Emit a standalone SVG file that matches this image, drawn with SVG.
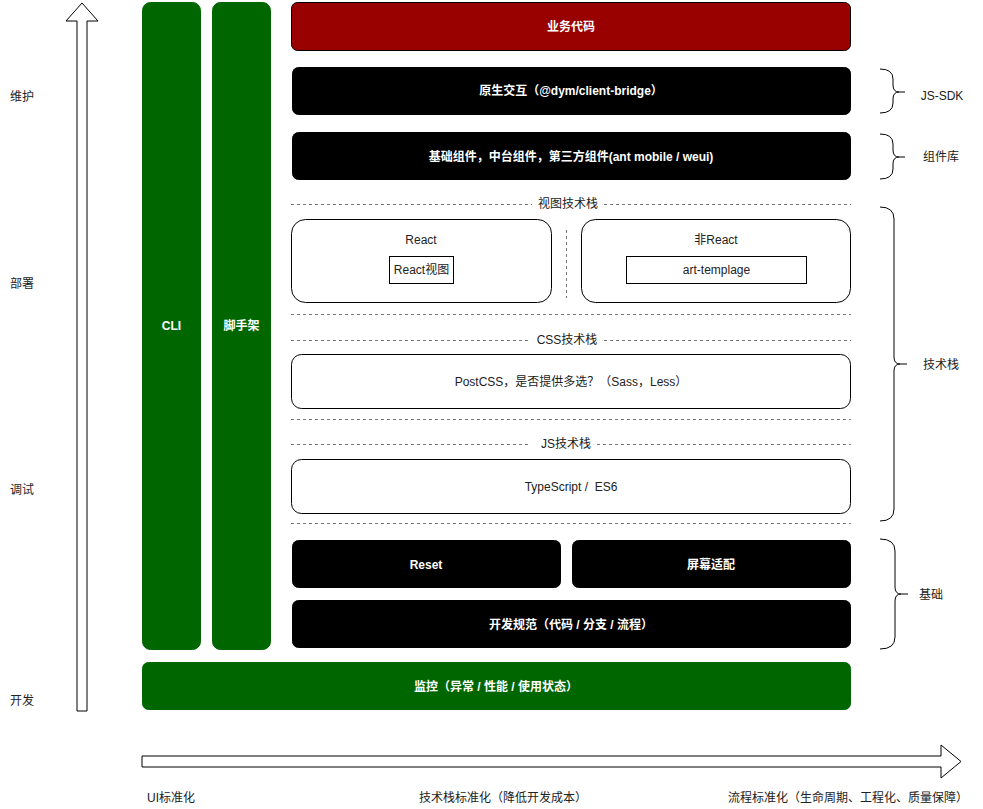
<svg xmlns="http://www.w3.org/2000/svg" width="983" height="809" viewBox="0 0 983 809">
  <style>
    text { font-family: "Liberation Sans", "Noto Sans CJK SC", sans-serif; font-size: 12px; fill: #222; }
    .w { fill: #fff; font-weight: bold; }
    .mid { text-anchor: middle; dominant-baseline: central; }
    .dark { fill: #000; stroke: #000; }
    .green { fill: #006600; stroke: #006600; }
    .red { fill: #990000; stroke: #000; }
    .box { fill: #fff; stroke: #000; }
    .dash { stroke: #777; stroke-dasharray: 3 3; fill: none; }
    .brace { fill: none; stroke: #000; }
    .arrow { fill: #fff; stroke: #000; }
  </style>

  <!-- axis arrows -->
  <g id="axes">
    <path class="arrow" d="M77,711 L77,21 L66,21 L82,3 L98,21 L87,21 L87,711 Z"/>
    <path class="arrow" d="M142,756 L941,756 L941,745 L961,761.5 L941,778 L941,767 L142,767 Z"/>
  </g>

  <!-- axis labels -->
  <g id="axis-labels">
    <text x="10" y="97" dominant-baseline="central">维护</text>
    <text x="10" y="284" dominant-baseline="central">部署</text>
    <text x="10" y="490" dominant-baseline="central">调试</text>
    <text x="10" y="701" dominant-baseline="central">开发</text>
    <text x="147" y="798" dominant-baseline="central">UI标准化</text>
    <text x="503" y="798" class="mid">技术栈标准化（降低开发成本）</text>
    <text x="848" y="798" class="mid">流程标准化（生命周期、工程化、质量保障）</text>
  </g>

  <!-- tool columns -->
  <g id="cli">
    <rect class="green" x="142.5" y="2.5" width="58" height="647" rx="8"/>
    <text class="w mid" x="171.5" y="326">CLI</text>
  </g>
  <g id="scaffold">
    <rect class="green" x="212.5" y="2.5" width="58" height="647" rx="8"/>
    <text class="w mid" x="241.5" y="326">脚手架</text>
  </g>

  <!-- layers -->
  <g id="business">
    <rect class="red" x="291.5" y="2.5" width="559" height="48" rx="6"/>
    <text class="w mid" x="571" y="27">业务代码</text>
  </g>
  <g id="bridge">
    <rect class="dark" x="292.5" y="67.5" width="558" height="47" rx="6"/>
    <text class="w mid" x="571" y="91">原生交互（@dym/client-bridge）</text>
  </g>
  <g id="components">
    <rect class="dark" x="292.5" y="132.5" width="558" height="47" rx="6"/>
    <text class="w mid" x="571" y="157">基础组件，中台组件，第三方组件(ant mobile / weui)</text>
  </g>

  <!-- view stack -->
  <g id="view-stack">
    <line class="dash" x1="291" y1="204.5" x2="532" y2="204.5"/>
    <line class="dash" x1="604" y1="204.5" x2="851" y2="204.5"/>
    <text class="mid" x="568" y="204">视图技术栈</text>
    <line class="dash" x1="566.5" y1="230" x2="566.5" y2="298"/>
    <line class="dash" x1="291" y1="314.5" x2="851" y2="314.5"/>
  </g>
  <g id="react">
    <rect class="box" x="291.5" y="219.5" width="260" height="83" rx="14"/>
    <text class="mid" x="421" y="240">React</text>
  </g>
  <g id="react-view">
    <rect class="box" x="389.5" y="256.5" width="64" height="27"/>
    <text class="mid" x="421.5" y="270">React视图</text>
  </g>
  <g id="non-react">
    <rect class="box" x="581.5" y="219.5" width="269" height="83" rx="14"/>
    <text class="mid" x="716" y="240">非React</text>
  </g>
  <g id="art-template">
    <rect class="box" x="626.5" y="256.5" width="180" height="27"/>
    <text class="mid" x="716.5" y="270">art-templage</text>
  </g>

  <!-- css stack -->
  <g id="css-stack">
    <line class="dash" x1="291" y1="340.5" x2="528" y2="340.5"/>
    <line class="dash" x1="604" y1="340.5" x2="851" y2="340.5"/>
    <text class="mid" x="567" y="340">CSS技术栈</text>
    <line class="dash" x1="291" y1="419.5" x2="851" y2="419.5"/>
  </g>
  <g id="postcss">
    <rect class="box" x="291.5" y="354.5" width="559" height="54" rx="10"/>
    <text class="mid" x="571" y="382">PostCSS，是否提供多选？（Sass，Less）</text>
  </g>

  <!-- js stack -->
  <g id="js-stack">
    <line class="dash" x1="291" y1="444.5" x2="528" y2="444.5"/>
    <line class="dash" x1="597" y1="444.5" x2="851" y2="444.5"/>
    <text class="mid" x="566" y="444">JS技术栈</text>
    <line class="dash" x1="291" y1="523.5" x2="851" y2="523.5"/>
  </g>
  <g id="typescript">
    <rect class="box" x="291.5" y="459.5" width="559" height="54" rx="10"/>
    <text class="mid" x="571" y="487">TypeScript /&#160; ES6</text>
  </g>

  <!-- foundation -->
  <g id="reset">
    <rect class="dark" x="292.5" y="540.5" width="268" height="47" rx="6"/>
    <text class="w mid" x="426" y="565">Reset</text>
  </g>
  <g id="screen-adapt">
    <rect class="dark" x="572.5" y="540.5" width="278" height="47" rx="6"/>
    <text class="w mid" x="711" y="565">屏幕适配</text>
  </g>
  <g id="dev-standard">
    <rect class="dark" x="292.5" y="600.5" width="558" height="47" rx="6"/>
    <text class="w mid" x="571" y="625">开发规范（代码 / 分支 / 流程）</text>
  </g>
  <g id="monitor">
    <rect class="green" x="142.5" y="662.5" width="708" height="47" rx="6"/>
    <text class="w mid" x="496" y="687">监控（异常 / 性能 / 使用状态）</text>
  </g>

  <!-- grouping braces -->
  <g id="connectors">
    <path class="brace" d="M880,69 Q893,69 893,79 L893,85 Q893,92 899,92 L905,92 M899,92 Q893,92 893,99 L893,103 Q893,113 880,113"/>
    <path class="brace" d="M880,134 Q893,134 893,144 L893,150 Q893,157 899,157 L905,157 M899,157 Q893,157 893,164 L893,169 Q893,179 880,179"/>
    <path class="brace" d="M880,207 Q894,207 894,219 L894,357 Q894,364 900,364 L907,364 M900,364 Q894,364 894,371 L894,509 Q894,521 880,521"/>
    <path class="brace" d="M880,539 Q895,539 895,551 L895,587 Q895,594 901,594 L908,594 M901,594 Q895,594 895,601 L895,637 Q895,649 880,649"/>
  </g>
  <g id="brace-labels">
    <text x="942" y="96" class="mid">JS-SDK</text>
    <text x="941" y="157" class="mid">组件库</text>
    <text x="941" y="365" class="mid">技术栈</text>
    <text x="931" y="595" class="mid">基础</text>
  </g>
</svg>
